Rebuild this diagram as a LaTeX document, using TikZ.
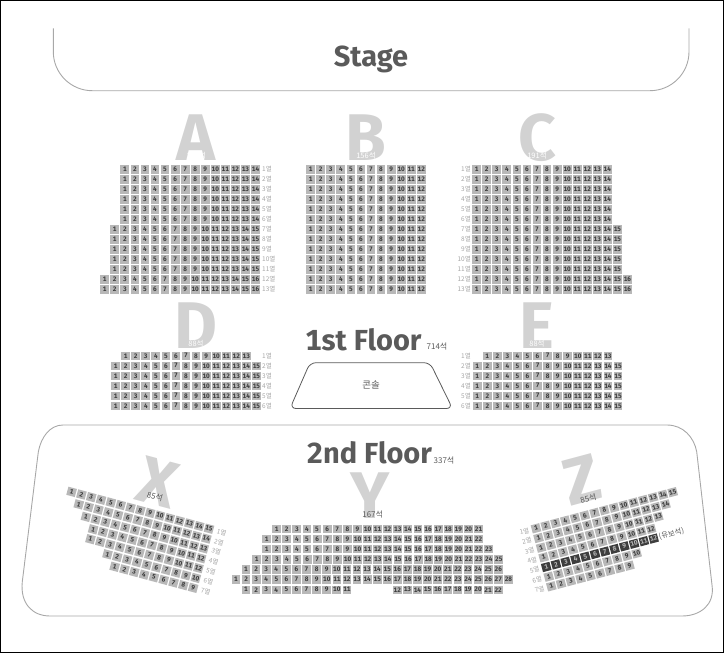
\documentclass[tikz,border=0pt]{standalone}
\usepackage{fontspec}
\usepackage{xcolor}
\setmainfont{Fira Sans}[Numbers={Lining,Monospaced}]
\newfontfamily\krfont{Noto Sans CJK KR}
\definecolor{ink}{HTML}{5A5A5A}
\definecolor{seatgray}{HTML}{B8B8B8}
\definecolor{seatink}{HTML}{3C3C3C}
\definecolor{darkseat}{HTML}{3E3E3E}
\definecolor{lettergray}{HTML}{D2D2D2}
\definecolor{rowgray}{HTML}{A6A6A6}
\definecolor{hallgray}{HTML}{A8A8A8}
\tikzset{
  seat/.style={fill=seatgray,text=seatink,inner sep=0pt,minimum width=8.8pt,
               minimum height=8.4pt,font=\bfseries\fontsize{6.5}{7}\selectfont},
  resseat/.style={seat,fill=darkseat,text=seatgray},
  rowlab/.style={text=rowgray,inner sep=0pt,font=\krfont\fontsize{6.5}{7}\selectfont},
  bigletter/.style={text=lettergray,inner sep=0pt,font=\bfseries\fontsize{66}{66}\selectfont},
  inletter/.style={text=white,inner sep=0pt,font=\krfont\fontsize{7.5}{8}\selectfont},
  seatcount/.style={text=ink,inner sep=0pt,font=\krfont\fontsize{8}{9}\selectfont},
  floortitle/.style={text=ink,inner sep=0pt,anchor=base,font=\bfseries\fontsize{29}{29}\selectfont},
  hall/.style={draw=hallgray,line width=0.9pt}
}
% [style]{name}{x of first seat}{y}{first number}{last number}
\newcommand{\seatrow}[6][seat]{%
  \foreach \c in {#5,...,#6}{
    \node[#1] (#2-\c) at ({(#3)+(\c-(#5))*\seatp},#4) {\c};
  }
}
\begin{document}
\begin{tikzpicture}[x=1pt,y=-1pt]
    \useasboundingbox (0,0) rectangle (724,654);
    \def\seatp{10.05}
    \draw[black,line width=1pt] (0.5,0.5) rectangle (723.5,652.5);
    % stage and floors
    \draw[hall,rounded corners=39pt] (53.3,28.3) -- (53.3,90.7) -- (689,90.7) -- (689,28.3);
    \node[floortitle] (stage) at (371,66) {Stage};
    \draw[hall] (360,425) -- (667,425) .. controls (683,425) and (694,437) .. (696.7,451.7)
      -- (712,585) .. controls (715,605) and (700,616) .. (682,616)
      -- (50,616) .. controls (32,616) and (20,603) .. (22.3,581.7)
      -- (38.3,452) .. controls (41,437) and (50,425) .. (63,425) -- cycle;
    \node[floortitle] (first) at (363.5,350) {1st Floor};
    \node[seatcount] (firstcount) at (437,346) {714석};
    \node[floortitle] (second) at (369.5,463) {2nd Floor};
    \node[seatcount] (secondcount) at (444,460) {337석};
    \draw[draw=ink,line width=0.8pt,rounded corners=6pt]
      (310,362.7) -- (430,362.7) -- (452.5,408.5) -- (290,408.5) -- cycle;
    \node[seatcount,font=\krfont\fontsize{9.5}{10}\selectfont] (console) at (371,385) {콘솔};
    % block letters
    \foreach \b/\xx/\yy/\t in {A/196/138/191석, B/366/138/156석, C/537/138/191석,
                               D/196/326/88석, E/537/326/88석}{
      \node[bigletter] (\b) at (\xx,\yy) {\b};
      \node[inletter] (\b-count) at (\xx,\yy+18) {\t};
    }
    \node[bigletter,rotate=-15] (X) at (158,482) {X};
    \node[bigletter] (Y) at (370.5,496) {Y};
    \node[bigletter,rotate=15] (Z) at (582,480) {Z};
    \node[seatcount,rotate=-15] (X-count) at (155,496.7) {85석};
    \node[seatcount] (Y-count) at (372.7,514) {167석};
    \node[seatcount,rotate=15] (Z-count) at (588.3,498.3) {85석};
    % block A
    \foreach \r/\n in {1/14,2/14,3/14,4/14,5/14,6/14,7/15,8/15,9/15,10/15,11/15,12/16,13/16}{
      \pgfmathsetmacro\yy{169.4+(\r-1)*10}
      \seatrow{A\r}{255.5-(\n-1)*\seatp}{\yy}{1}{\n}
      \node[rowlab,anchor=west] (A\r-lab) at (262,\yy) {{\r}열};
    }
    % block B
    \foreach \r in {1,...,13}{
      \pgfmathsetmacro\yy{169.4+(\r-1)*10}
      \seatrow{B\r}{310.7}{\yy}{1}{12}
    }
    % block C
    \foreach \r/\n in {1/14,2/14,3/14,4/14,5/14,6/14,7/15,8/15,9/15,10/15,11/15,12/16,13/16}{
      \pgfmathsetmacro\yy{169.4+(\r-1)*10}
      \seatrow{C\r}{476.7}{\yy}{1}{\n}
      \node[rowlab,anchor=east] (C\r-lab) at (471,\yy) {{\r}열};
    }
    % block D
    \foreach \r/\n/\xx in {1/13/125.7,2/15/115.7,3/15/115.7,4/15/115.7,5/15/115.7,6/15/115.7}{
      \pgfmathsetmacro\yy{355.8+(\r-1)*10}
      \seatrow{D\r}{\xx}{\yy}{1}{\n}
      \node[rowlab,anchor=west] (D\r-lab) at (262,\yy) {{\r}열};
    }
    % block E
    \foreach \r/\n/\xx in {1/13/487.3,2/15/477.3,3/15/477.3,4/15/477.3,5/15/477.3,6/15/477.3}{
      \pgfmathsetmacro\yy{355.8+(\r-1)*10}
      \seatrow{E\r}{\xx}{\yy}{1}{\n}
      \node[rowlab,anchor=east] (E\r-lab) at (471,\yy) {{\r}열};
    }
    % block X
    \begin{scope}[shift={(209,528.7)},rotate=-15,transform shape]
      \def\seatp{10.16}
      \foreach \r/\n in {1/15,2/14,3/13,4/12,5/12,6/10,7/9}{
        \pgfmathsetmacro\yy{(\r-1)*10.2}
        \seatrow{X\r}{-(\n-1)*\seatp}{\yy}{1}{\n}
        \node[rowlab,anchor=west] (X\r-lab) at (8,\yy) {{\r}열};
      }
    \end{scope}
    % block Y
    \def\seatp{10.09}
    \foreach \r/\n/\xx in {1/21/276.7,2/22/266.7,3/23/266.7,4/25/256.7,5/26/246,6/28/236}{
      \pgfmathsetmacro\yy{529+(\r-1)*10.1}
      \seatrow{Y\r}{\xx}{\yy}{1}{\n}
    }
    \seatrow{Y7}{246}{589.7}{1}{11}
    \seatrow{Y7}{397.3}{589.7}{12}{22}
    % block Z
    \begin{scope}[shift={(536,528.3)},rotate=14.8,transform shape]
      \def\seatp{10.1}
      \foreach \r/\n in {1/15,2/14,3/13,4/12,6/10,7/9}{
        \pgfmathsetmacro\yy{(\r-1)*10}
        \seatrow{Z\r}{0}{\yy}{1}{\n}
        \node[rowlab,anchor=east] (Z\r-lab) at (-7,\yy) {{\r}열};
      }
      \seatrow[resseat]{Z5}{0}{40}{1}{12}
      \node[rowlab,anchor=east] (Z5-lab) at (-7,40) {5열};
      \node[seatcount,anchor=west,font=\krfont\fontsize{7.5}{8}\selectfont] (Z-held)
        at (116.5,40) {(유보석)};
    \end{scope}
\end{tikzpicture}
\end{document}
